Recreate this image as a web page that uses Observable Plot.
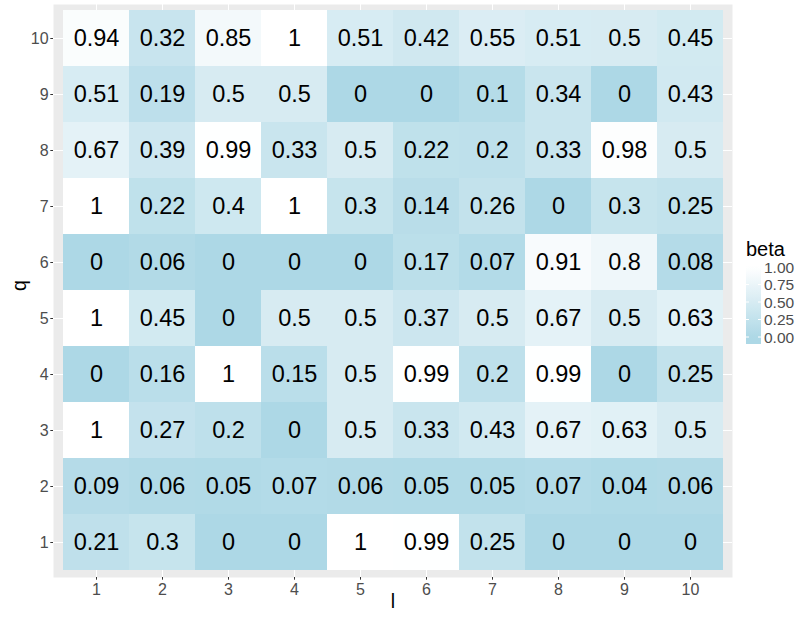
<!DOCTYPE html>
<html><head><meta charset="utf-8">
<script src="https://cdn.jsdelivr.net/npm/d3@7"></script>
<script src="https://cdn.jsdelivr.net/npm/@observablehq/plot@0.6"></script>
<style>
body{margin:0;background:#fff;}
#wrap{position:relative;width:801px;height:617px;font-family:"Liberation Sans",Arial,Helvetica,sans-serif;}
#legend{position:absolute;left:0;top:0;pointer-events:none;}
</style>
</head><body><div id="wrap"></div>
<script>
const lLevels = [1, 2, 3, 4, 5, 6, 7, 8, 9, 10];
const qLevels = [1, 2, 3, 4, 5, 6, 7, 8, 9, 10];
// beta values per row q (columns l = 1..10)
const beta_q1  = [0.21, 0.3, 0, 0, 1, 0.99, 0.25, 0, 0, 0];
const beta_q2  = [0.09, 0.06, 0.05, 0.07, 0.06, 0.05, 0.05, 0.07, 0.04, 0.06];
const beta_q3  = [1, 0.27, 0.2, 0, 0.5, 0.33, 0.43, 0.67, 0.63, 0.5];
const beta_q4  = [0, 0.16, 1, 0.15, 0.5, 0.99, 0.2, 0.99, 0, 0.25];
const beta_q5  = [1, 0.45, 0, 0.5, 0.5, 0.37, 0.5, 0.67, 0.5, 0.63];
const beta_q6  = [0, 0.06, 0, 0, 0, 0.17, 0.07, 0.91, 0.8, 0.08];
const beta_q7  = [1, 0.22, 0.4, 1, 0.3, 0.14, 0.26, 0, 0.3, 0.25];
const beta_q8  = [0.67, 0.39, 0.99, 0.33, 0.5, 0.22, 0.2, 0.33, 0.98, 0.5];
const beta_q9  = [0.51, 0.19, 0.5, 0.5, 0, 0, 0.1, 0.34, 0, 0.43];
const beta_q10 = [0.94, 0.32, 0.85, 1, 0.51, 0.42, 0.55, 0.51, 0.5, 0.45];
const legendBreaks = [0, 0.25, 0.5, 0.75, 1];
const legendLabels = ["0.00", "0.25", "0.50", "0.75", "1.00"];

const betaRows = [beta_q1, beta_q2, beta_q3, beta_q4, beta_q5, beta_q6, beta_q7, beta_q8, beta_q9, beta_q10];
const data = [];
qLevels.forEach((q, i) => lLevels.forEach((l, j) => data.push({l, q, beta: betaRows[i][j]})));

const FONT = '"Liberation Sans",Arial,Helvetica,sans-serif';

const plot = Plot.plot({
  width: 801, height: 617,
  marginTop: 4, marginBottom: 40, marginLeft: 53, marginRight: 69,
  style: {fontFamily: FONT, fontSize: "16px", background: "white", overflow: "visible"},
  x: {type: "band", domain: lLevels, padding: 0, insetLeft: 6.65, insetRight: 6.65},
  y: {type: "band", domain: qLevels.slice().reverse(), padding: 0, insetTop: 5.6, insetBottom: 5.6},
  color: {type: "linear", domain: [0, 1], range: ["lightblue", "white"], interpolate: "lab"},
  marks: [
    Plot.frame({fill: "#EBEBEB", stroke: "none"}),
    Plot.gridX({stroke: "white", strokeOpacity: 1, strokeWidth: 1.07}),
    Plot.gridY({stroke: "white", strokeOpacity: 1, strokeWidth: 1.07}),
    Plot.cell(data, {x: "l", y: "q", fill: "beta", inset: 0, shapeRendering: "crispEdges"}),
    Plot.text(data, {x: "l", y: "q", text: d => String(d.beta), fontSize: 23.5, fill: "black"}),
    Plot.axisX({tickSize: 2.7, tickPadding: 3, fontSize: 16, stroke: "#333333", fill: "#4D4D4D", label: null}),
    Plot.axisY({tickSize: 2.7, tickPadding: 2.2, fontSize: 16, stroke: "#333333", fill: "#4D4D4D", label: null}),
    Plot.text(["l"], {frameAnchor: "bottom", dy: 30, text: d => d, fontSize: 19.6, fill: "black"}),
    Plot.text(["q"], {frameAnchor: "left", dx: -34, rotate: -90, text: d => d, fontSize: 19.6, fill: "black"})
  ]
});
const wrap = document.getElementById("wrap");
wrap.appendChild(plot);

// vertical colorbar legend (ggplot style)
const color = plot.scale("color");
const svg = d3.select(wrap).append("svg").attr("id", "legend")
  .attr("width", 801).attr("height", 617).style("font-family", FONT);
const barX = 746, barW = 15, barTop = 261, barBottom = 344;
const yLeg = d3.scaleLinear().domain([0, 1]).range([337, 267]);
const grad = svg.append("defs").append("linearGradient").attr("id", "betagrad")
  .attr("x1", 0).attr("x2", 0).attr("y1", 0).attr("y2", 1);
d3.range(0, 1.0001, 0.05).forEach(t => {
  const y = barTop + t * (barBottom - barTop);
  const v = Math.max(0, Math.min(1, yLeg.invert(y)));
  grad.append("stop").attr("offset", t).attr("stop-color", color.apply(v));
});
svg.append("text").attr("x", 746).attr("y", 256).attr("font-size", 20).attr("fill", "black").text("beta");
svg.append("rect").attr("x", barX).attr("y", barTop).attr("width", barW).attr("height", barBottom - barTop)
  .attr("fill", "url(#betagrad)");
legendBreaks.forEach((b, i) => {
  const y = yLeg(b);
  svg.append("line").attr("x1", barX).attr("x2", barX + 3).attr("y1", y).attr("y2", y).attr("stroke", "white").attr("stroke-width", 1);
  svg.append("line").attr("x1", barX + barW - 3).attr("x2", barX + barW).attr("y1", y).attr("y2", y).attr("stroke", "white").attr("stroke-width", 1);
  svg.append("text").attr("x", 764).attr("y", y).attr("dy", "0.36em").attr("font-size", 15.5).attr("fill", "#4D4D4D").text(legendLabels[i]);
});
</script>
</body></html>
